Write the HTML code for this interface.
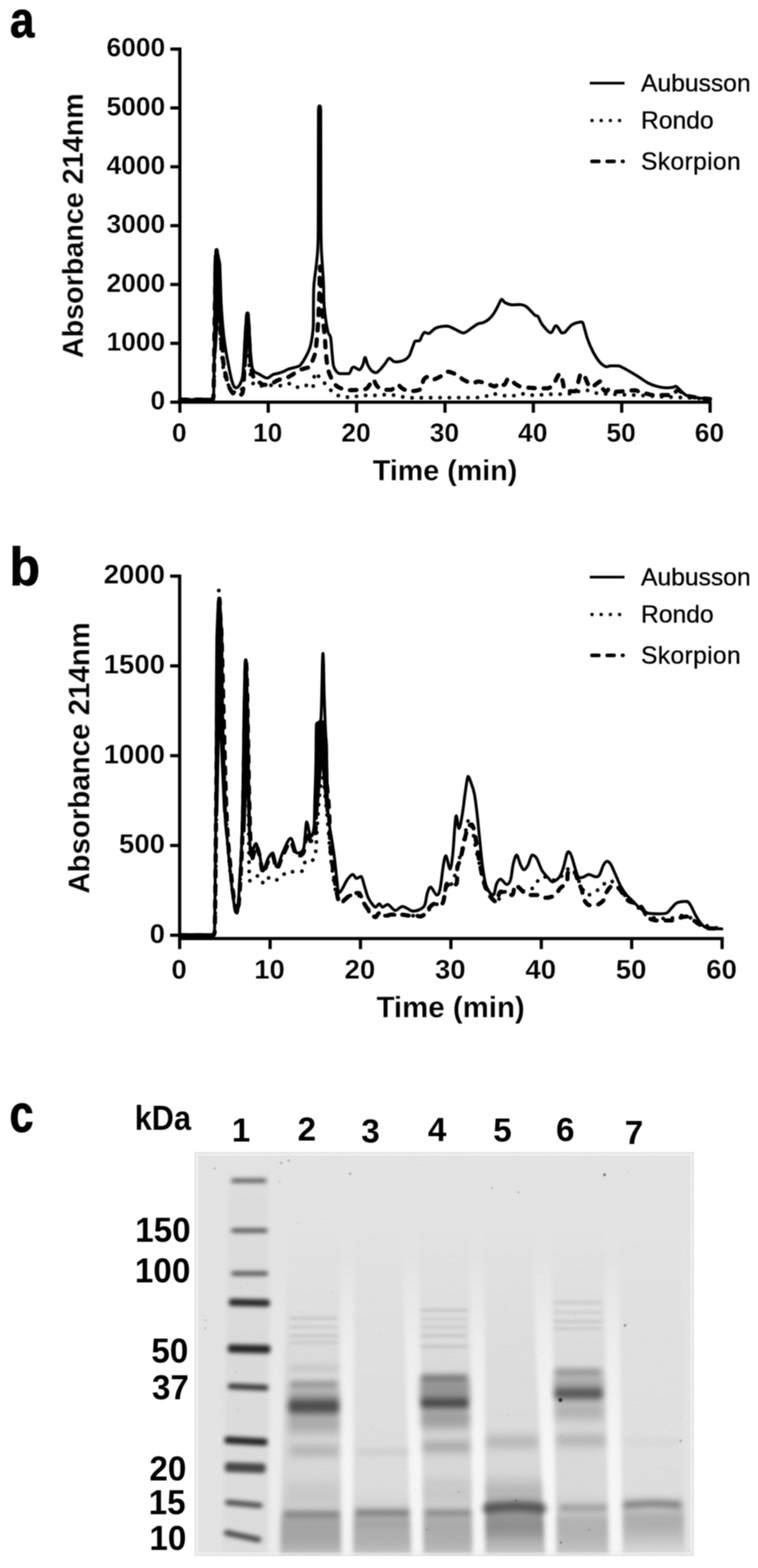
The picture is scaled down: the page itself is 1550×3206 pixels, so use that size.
<!DOCTYPE html>
<html lang="en">
<head>
<meta charset="utf-8">
<title>Figure: RP-HPLC chromatograms and SDS-PAGE</title>
<style>
html,body{margin:0;padding:0;background:#fff;}
body{width:1550px;height:3206px;overflow:hidden;}
svg{display:block;}
text{font-family:"Liberation Sans",sans-serif;fill:#000;}
.tk{font-weight:bold;stroke:#fff;stroke-width:0.45px;}
.ax{font-weight:bold;stroke:#fff;stroke-width:0.35px;}
.lg{font-weight:normal;stroke:#000;stroke-width:0.6px;}
.pl{font-weight:bold;}
.gl{font-weight:bold;}
</style>
</head>
<body>
<svg width="1550" height="3206" viewBox="0 0 1550 3206">
<defs>
<filter id="soft" filterUnits="userSpaceOnUse" x="0" y="0" width="1550" height="3206" color-interpolation-filters="sRGB"><feGaussianBlur stdDeviation="0.85"/></filter>
<clipPath id="gelclip"><rect x="397.5" y="2355" width="1022.0" height="827"/></clipPath>
<filter id="b1" x="-30%" y="-30%" width="160%" height="160%" color-interpolation-filters="sRGB"><feGaussianBlur stdDeviation="1.3"/></filter>
<filter id="b2" x="-30%" y="-30%" width="160%" height="160%" color-interpolation-filters="sRGB"><feGaussianBlur stdDeviation="5 4.2"/></filter>
<filter id="bt" x="-30%" y="-30%" width="160%" height="160%" color-interpolation-filters="sRGB"><feGaussianBlur stdDeviation="4 3"/></filter>
<filter id="b3" x="-30%" y="-30%" width="160%" height="160%" color-interpolation-filters="sRGB"><feGaussianBlur stdDeviation="6 6.5"/></filter>
<filter id="b5" x="-30%" y="-30%" width="160%" height="160%" color-interpolation-filters="sRGB"><feGaussianBlur stdDeviation="5 4"/></filter>
<filter id="b8" x="-30%" y="-30%" width="160%" height="160%" color-interpolation-filters="sRGB"><feGaussianBlur stdDeviation="7 10"/></filter>
<filter id="b12" x="-30%" y="-30%" width="160%" height="160%" color-interpolation-filters="sRGB"><feGaussianBlur stdDeviation="9 16"/></filter>
<filter id="bl" x="-30%" y="-30%" width="160%" height="160%" color-interpolation-filters="sRGB"><feGaussianBlur stdDeviation="1.1"/></filter>
<filter id="grain" x="0" y="0" width="100%" height="100%" color-interpolation-filters="sRGB"><feTurbulence type="fractalNoise" baseFrequency="0.5" numOctaves="2" seed="7" result="n"/><feColorMatrix in="n" type="matrix" values="0 0 0 0 0  0 0 0 0 0  0 0 0 0 0  1.6 0 0 0 -0.62"/><feGaussianBlur stdDeviation="0.9"/></filter>
<linearGradient id="gL1" x1="0" y1="0" x2="0" y2="1"><stop offset="0" stop-color="#000" stop-opacity="0"/><stop offset="0.05" stop-color="#000" stop-opacity="0.025"/><stop offset="0.5" stop-color="#000" stop-opacity="0.035"/><stop offset="1" stop-color="#000" stop-opacity="0.025"/></linearGradient>
<linearGradient id="gL2" x1="0" y1="0" x2="0" y2="1"><stop offset="0" stop-color="#000" stop-opacity="0"/><stop offset="0.3" stop-color="#000" stop-opacity="0.02"/><stop offset="0.45" stop-color="#000" stop-opacity="0.04"/><stop offset="0.59" stop-color="#000" stop-opacity="0.05"/><stop offset="0.81" stop-color="#000" stop-opacity="0.05"/><stop offset="0.87" stop-color="#000" stop-opacity="0.1"/><stop offset="0.9" stop-color="#000" stop-opacity="0.2"/><stop offset="1" stop-color="#000" stop-opacity="0.16"/></linearGradient>
<linearGradient id="gL3" x1="0" y1="0" x2="0" y2="1"><stop offset="0" stop-color="#000" stop-opacity="0"/><stop offset="0.3" stop-color="#000" stop-opacity="0.015"/><stop offset="0.59" stop-color="#000" stop-opacity="0.02"/><stop offset="0.81" stop-color="#000" stop-opacity="0.03"/><stop offset="0.87" stop-color="#000" stop-opacity="0.08"/><stop offset="0.9" stop-color="#000" stop-opacity="0.18"/><stop offset="1" stop-color="#000" stop-opacity="0.14"/></linearGradient>
<linearGradient id="gL4" x1="0" y1="0" x2="0" y2="1"><stop offset="0" stop-color="#000" stop-opacity="0"/><stop offset="0.3" stop-color="#000" stop-opacity="0.02"/><stop offset="0.45" stop-color="#000" stop-opacity="0.04"/><stop offset="0.59" stop-color="#000" stop-opacity="0.05"/><stop offset="0.81" stop-color="#000" stop-opacity="0.05"/><stop offset="0.87" stop-color="#000" stop-opacity="0.1"/><stop offset="0.9" stop-color="#000" stop-opacity="0.19"/><stop offset="1" stop-color="#000" stop-opacity="0.15"/></linearGradient>
<linearGradient id="gL5" x1="0" y1="0" x2="0" y2="1"><stop offset="0" stop-color="#000" stop-opacity="0"/><stop offset="0.3" stop-color="#000" stop-opacity="0.02"/><stop offset="0.59" stop-color="#000" stop-opacity="0.03"/><stop offset="0.75" stop-color="#000" stop-opacity="0.05"/><stop offset="0.83" stop-color="#000" stop-opacity="0.14"/><stop offset="0.87" stop-color="#000" stop-opacity="0.26"/><stop offset="0.92" stop-color="#000" stop-opacity="0.28"/><stop offset="1" stop-color="#000" stop-opacity="0.14"/></linearGradient>
<linearGradient id="gL6" x1="0" y1="0" x2="0" y2="1"><stop offset="0" stop-color="#000" stop-opacity="0"/><stop offset="0.3" stop-color="#000" stop-opacity="0.02"/><stop offset="0.45" stop-color="#000" stop-opacity="0.035"/><stop offset="0.59" stop-color="#000" stop-opacity="0.045"/><stop offset="0.81" stop-color="#000" stop-opacity="0.045"/><stop offset="0.87" stop-color="#000" stop-opacity="0.09"/><stop offset="0.9" stop-color="#000" stop-opacity="0.17"/><stop offset="1" stop-color="#000" stop-opacity="0.13"/></linearGradient>
<linearGradient id="gL7" x1="0" y1="0" x2="0" y2="1"><stop offset="0" stop-color="#000" stop-opacity="0"/><stop offset="0.3" stop-color="#000" stop-opacity="0.01"/><stop offset="0.59" stop-color="#000" stop-opacity="0.015"/><stop offset="0.81" stop-color="#000" stop-opacity="0.025"/><stop offset="0.86" stop-color="#000" stop-opacity="0.08"/><stop offset="0.89" stop-color="#000" stop-opacity="0.17"/><stop offset="0.96" stop-color="#000" stop-opacity="0.12"/><stop offset="1" stop-color="#000" stop-opacity="0.04"/></linearGradient>
<linearGradient id="gg0" x1="0" y1="0" x2="0" y2="1"><stop offset="0" stop-color="#fff" stop-opacity="0"/><stop offset="0.3" stop-color="#fff" stop-opacity="0.2"/><stop offset="0.7" stop-color="#fff" stop-opacity="0.4"/><stop offset="1" stop-color="#fff" stop-opacity="0.4"/></linearGradient>
<linearGradient id="gg1" x1="0" y1="0" x2="0" y2="1"><stop offset="0" stop-color="#fff" stop-opacity="0"/><stop offset="0.3" stop-color="#fff" stop-opacity="0.45"/><stop offset="0.7" stop-color="#fff" stop-opacity="0.75"/><stop offset="1" stop-color="#fff" stop-opacity="0.75"/></linearGradient>
<linearGradient id="gg2" x1="0" y1="0" x2="0" y2="1"><stop offset="0" stop-color="#fff" stop-opacity="0"/><stop offset="0.3" stop-color="#fff" stop-opacity="0.45"/><stop offset="0.7" stop-color="#fff" stop-opacity="0.8"/><stop offset="1" stop-color="#fff" stop-opacity="0.8"/></linearGradient>
<linearGradient id="gg3" x1="0" y1="0" x2="0" y2="1"><stop offset="0" stop-color="#fff" stop-opacity="0"/><stop offset="0.3" stop-color="#fff" stop-opacity="0.45"/><stop offset="0.7" stop-color="#fff" stop-opacity="0.8"/><stop offset="1" stop-color="#fff" stop-opacity="0.8"/></linearGradient>
<linearGradient id="gg4" x1="0" y1="0" x2="0" y2="1"><stop offset="0" stop-color="#fff" stop-opacity="0"/><stop offset="0.3" stop-color="#fff" stop-opacity="0.5"/><stop offset="0.7" stop-color="#fff" stop-opacity="0.85"/><stop offset="1" stop-color="#fff" stop-opacity="0.85"/></linearGradient>
<linearGradient id="gg5" x1="0" y1="0" x2="0" y2="1"><stop offset="0" stop-color="#fff" stop-opacity="0"/><stop offset="0.3" stop-color="#fff" stop-opacity="0.45"/><stop offset="0.7" stop-color="#fff" stop-opacity="0.8"/><stop offset="1" stop-color="#fff" stop-opacity="0.8"/></linearGradient>
</defs>
<rect x="0" y="0" width="1550" height="3206" fill="#fff"/>
<g filter="url(#soft)">
<g id="chart_a">
<g stroke="#000" stroke-width="6.6" fill="none" stroke-linecap="butt">
<path d="M367.8 97.1 V825.6"/>
<path d="M364.5 822.3 H1455.3"/>
<path d="M348.3 100.4 H367.8"/>
<path d="M348.3 220.7 H367.8"/>
<path d="M348.3 341.0 H367.8"/>
<path d="M348.3 461.4 H367.8"/>
<path d="M348.3 581.7 H367.8"/>
<path d="M348.3 702.0 H367.8"/>
<path d="M348.3 822.3 H367.8"/>
<path d="M367.8 822.3 V843.8"/>
<path d="M548.5 822.3 V843.8"/>
<path d="M729.2 822.3 V843.8"/>
<path d="M909.9 822.3 V843.8"/>
<path d="M1090.6 822.3 V843.8"/>
<path d="M1271.3 822.3 V843.8"/>
<path d="M1452.0 822.3 V843.8"/>
</g>
<g class="tk" text-anchor="end" font-size="54">
<text x="337.8" y="115.2">6000</text>
<text x="337.8" y="235.5">5000</text>
<text x="337.8" y="355.8">4000</text>
<text x="337.8" y="476.2">3000</text>
<text x="337.8" y="596.5">2000</text>
<text x="337.8" y="716.8">1000</text>
<text x="337.8" y="837.1">0</text>
</g>
<g class="tk" text-anchor="middle" font-size="54">
<text x="366.6" y="902.6">0</text>
<text x="547.3" y="902.6">10</text>
<text x="728.0" y="902.6">20</text>
<text x="908.7" y="902.6">30</text>
<text x="1089.4" y="902.6">40</text>
<text x="1270.1" y="902.6">50</text>
<text x="1450.8" y="902.6">60</text>
</g>
<text class="ax" font-size="58.7" text-anchor="middle" transform="translate(169.5 461.5) rotate(-90)">Absorbance 214nm</text>
<text class="ax" font-size="58.7" text-anchor="middle" x="910" y="981.6">Time (min)</text>
<path d="M1206 170 H1277" stroke="#000" stroke-width="5.4" fill="none"/>
<text class="lg" font-size="50.4" x="1310.8" y="187.0">Aubusson</text>
<path d="M1210.5 246.4 H1277" stroke="#000" stroke-width="6.8" stroke-linecap="round" stroke-dasharray="0.1 18.7" fill="none"/>
<text class="lg" font-size="50.4" x="1310.8" y="263.4">Rondo</text>
<path d="M1210.5 330.1 H1274" stroke="#000" stroke-width="7.5" stroke-linecap="round" stroke-dasharray="14 17.2" fill="none"/>
<text class="lg" font-size="50.4" x="1310.8" y="347.1" letter-spacing="0.7">Skorpion</text>
<g id="curves_a" fill="none" stroke="#000" stroke-linejoin="round" stroke-linecap="round">
<path d="M439.5 513.0 L446.0 513.0 L451.5 540.0 L453.5 600.0 L456.0 680.0 L458.0 720.0 L453.0 720.0 L447.0 640.0 L442.0 720.0 L437.5 720.0 L437.0 600.0 L437.5 540.0 Z" fill="#000" stroke-width="2"/>
<path d="M502.0 646.0 L510.0 646.0 L513.0 700.0 L515.0 750.0 L511.0 750.0 L507.0 700.0 L503.0 750.0 L499.0 750.0 L500.0 700.0 Z" fill="#000" stroke-width="2"/>
<path d="M368.0 817.0 C373.3 817.0 388.8 817.0 400.0 817.0 C411.2 817.0 428.8 817.0 435.0 817.0 C437.5 812.5 436.8 812.8 437.5 790.0 C438.2 767.2 438.8 711.7 439.5 680.0 C440.2 648.3 440.8 620.0 441.5 600.0 C442.2 580.0 442.8 560.0 443.5 560.0 C444.2 560.0 445.1 583.3 446.0 600.0 C446.9 616.7 447.8 640.0 449.0 660.0 C450.2 680.0 451.5 703.3 453.0 720.0 C454.5 736.7 455.8 749.2 458.0 760.0 C460.2 770.8 463.0 778.3 466.0 785.0 C469.0 791.7 472.7 797.0 476.0 800.0 C479.3 803.0 483.0 803.0 486.0 803.0 C489.0 802.5 492.0 802.5 494.0 797.0 C496.0 791.5 496.8 779.5 498.0 770.0 C499.2 760.5 500.0 749.2 501.0 740.0 C502.0 730.8 503.0 718.3 504.0 715.0 C505.0 715.0 506.0 715.0 507.0 720.0 C508.0 725.8 508.7 740.2 510.0 750.0 C511.3 759.8 512.7 772.1 515.0 778.6 C517.3 785.1 519.8 787.0 524.0 788.7 C528.2 789.0 534.0 789.0 540.0 789.0 C546.0 788.8 553.7 787.6 560.0 787.6 C566.3 787.6 572.2 788.7 578.0 788.7 C583.8 788.1 589.3 784.0 595.0 784.0 C600.7 784.7 606.8 792.3 612.0 793.0 C617.2 793.0 622.0 788.0 626.5 788.0 C631.0 788.2 636.5 794.0 639.0 794.0 C641.5 791.7 640.6 779.4 641.8 774.0 C643.0 768.6 643.8 761.7 646.0 761.7 C648.2 761.9 651.6 770.9 655.0 775.0 C658.4 779.1 661.5 781.1 666.6 786.4 C671.7 791.7 679.7 802.8 685.7 806.7 C691.7 810.0 697.0 808.9 702.6 810.0 C708.2 811.1 713.7 813.4 719.5 813.4 C725.3 813.0 731.2 808.5 737.4 807.8 C743.6 807.8 750.3 809.0 756.6 809.0 C762.9 809.0 768.6 808.4 775.0 808.0 C781.4 807.6 788.0 806.7 794.8 806.7 C801.6 807.0 809.1 808.9 816.0 810.0 C822.9 811.1 829.2 812.8 836.4 813.4 C843.6 813.4 848.4 813.4 859.0 813.4 C869.6 813.3 884.8 813.1 900.0 813.0 C915.2 813.0 935.3 813.0 950.0 813.0 C964.7 812.8 978.7 813.0 988.0 812.0 C997.3 810.7 998.7 805.5 1006.0 805.0 C1013.3 805.0 1024.0 808.3 1032.0 809.0 C1040.0 809.0 1047.2 809.0 1054.0 809.0 C1060.8 808.3 1066.5 805.1 1073.0 805.0 C1079.5 805.0 1086.2 808.2 1093.0 808.5 C1099.8 808.5 1107.2 807.1 1114.0 806.7 C1120.8 806.3 1126.9 806.1 1133.7 806.0 C1140.5 806.0 1148.1 806.0 1155.0 806.0 C1161.9 805.5 1168.2 804.5 1175.0 803.0 C1181.8 801.5 1189.1 797.0 1195.6 797.0 C1202.1 797.0 1204.9 801.5 1214.0 803.0 C1223.1 804.5 1235.7 805.2 1250.0 806.0 C1264.3 806.8 1283.3 807.2 1300.0 808.0 C1316.7 808.8 1333.3 810.2 1350.0 811.0 C1366.7 811.8 1383.0 812.2 1400.0 813.0 C1417.0 813.8 1443.3 815.5 1452.0 816.0" stroke-width="7.6" stroke-dasharray="0.1 19"/>
<path d="M368.0 817.0 C373.3 817.0 388.8 817.0 400.0 817.0 C411.2 817.0 428.8 817.0 435.0 817.0 C437.0 812.5 436.3 817.0 437.0 790.0 C437.7 762.2 438.3 691.7 439.0 650.0 C439.7 608.3 440.4 563.5 441.0 540.0 C441.6 516.5 441.9 509.0 442.5 509.0 C443.1 509.0 443.8 524.8 444.5 540.0 C445.2 555.2 446.1 580.0 447.0 600.0 C447.9 620.0 448.8 640.0 450.0 660.0 C451.2 680.0 452.3 703.3 454.0 720.0 C455.7 736.7 457.7 748.3 460.0 760.0 C462.3 771.7 465.0 782.3 468.0 790.0 C471.0 797.7 474.7 803.0 478.0 806.0 C481.3 808.0 485.0 808.0 488.0 808.0 C491.0 807.5 494.2 808.0 496.0 803.0 C497.8 796.7 498.2 783.8 499.0 770.0 C499.8 756.2 500.2 736.7 501.0 720.0 C501.8 703.3 502.7 683.2 503.5 670.0 C504.3 656.8 505.2 641.0 506.0 641.0 C506.8 641.0 507.7 656.8 508.5 670.0 C509.3 683.2 510.1 705.8 511.0 720.0 C511.9 734.2 512.8 746.7 514.0 755.0 C515.2 763.3 515.7 765.8 518.0 770.0 C520.3 774.2 524.3 777.2 528.0 780.0 C531.7 782.8 535.3 786.3 540.0 787.0 C544.7 787.0 551.2 785.7 556.0 784.0 C560.8 782.3 564.2 778.8 569.0 777.0 C573.8 775.2 580.2 774.8 585.0 773.0 C589.8 771.2 593.5 768.7 598.0 766.0 C602.5 763.3 607.0 759.3 612.0 757.0 C617.0 754.7 624.3 753.2 628.0 752.0 C631.7 750.8 632.0 752.0 634.0 750.0 C636.0 747.2 638.2 740.2 640.0 735.0 C641.8 729.8 643.6 727.3 645.0 719.0 C646.4 710.7 647.6 696.7 648.6 685.0 C649.6 673.3 650.3 663.2 651.0 649.0 C651.7 634.8 652.4 617.3 653.0 600.0 C653.6 582.7 653.9 545.0 654.5 545.0 C655.1 545.0 655.8 584.2 656.5 600.0 C657.2 615.8 657.8 625.4 659.0 640.0 C660.2 654.6 662.7 673.6 664.0 687.5 C665.3 701.4 665.3 711.5 666.6 723.5 C667.9 735.5 668.8 749.0 672.0 759.5 C675.2 770.0 681.0 780.6 685.7 786.5 C690.4 792.4 695.1 793.1 700.0 795.0 C704.9 796.9 709.2 797.4 715.0 797.7 C720.8 797.7 729.4 797.5 735.0 797.0 C740.6 796.5 745.0 797.0 748.7 795.0 C752.4 793.0 754.6 788.2 757.0 785.0 C759.4 781.8 760.8 776.0 763.0 776.0 C765.2 776.5 767.5 784.8 770.0 788.0 C772.5 791.2 774.7 793.5 778.0 795.0 C781.3 796.5 786.3 796.7 790.0 797.0 C793.7 797.0 797.0 797.0 800.0 797.0 C803.0 796.0 805.7 792.8 808.0 791.0 C810.3 789.2 811.8 786.5 814.0 786.5 C816.2 786.8 818.3 791.1 821.0 793.0 C823.7 794.9 826.8 796.8 830.0 798.0 C833.2 799.2 834.8 800.0 840.0 800.0 C845.2 799.5 856.7 798.8 861.0 795.0 C865.3 791.2 863.5 781.2 866.0 777.0 C868.5 772.8 872.7 770.2 876.0 770.0 C879.3 770.0 881.3 776.0 886.0 776.0 C890.7 775.7 899.0 770.7 904.0 768.0 C909.0 765.3 910.5 760.0 916.0 760.0 C921.5 760.0 931.8 765.3 937.0 768.0 C942.2 770.7 942.2 773.3 947.0 776.0 C951.8 778.7 960.8 783.3 966.0 784.0 C971.2 784.0 972.8 780.0 978.0 780.0 C983.2 780.2 991.3 783.3 997.0 785.0 C1002.7 786.7 1008.2 790.0 1012.0 790.0 C1015.8 789.7 1016.8 783.5 1020.0 783.0 C1023.2 783.0 1027.7 787.0 1031.0 787.0 C1034.3 785.5 1036.2 774.3 1040.0 774.0 C1043.8 774.0 1049.7 782.2 1054.0 785.0 C1058.3 787.8 1060.7 789.7 1066.0 791.0 C1071.3 792.3 1080.2 792.5 1086.0 793.0 C1091.8 793.5 1095.3 793.8 1101.0 794.0 C1106.7 794.0 1114.9 794.0 1120.0 794.0 C1125.1 792.7 1128.3 790.1 1131.5 786.4 C1134.7 782.7 1136.8 775.7 1139.0 772.0 C1141.2 768.3 1143.1 764.0 1145.0 764.0 C1146.9 765.3 1148.8 774.0 1150.6 779.7 C1152.4 785.4 1151.7 794.6 1156.0 798.0 C1160.3 800.0 1172.2 800.0 1176.5 800.0 C1180.8 797.5 1180.3 788.7 1182.0 783.0 C1183.7 777.3 1185.1 769.2 1186.6 766.0 C1188.1 764.0 1189.5 764.0 1191.0 764.0 C1192.5 764.6 1193.7 766.1 1195.6 769.6 C1197.5 773.1 1200.2 781.6 1202.3 785.3 C1204.4 789.0 1205.9 791.4 1208.0 792.0 C1210.1 792.0 1211.4 790.8 1214.7 788.7 C1218.0 786.7 1225.0 779.7 1228.0 779.7 C1231.0 780.8 1230.7 791.6 1232.7 795.0 C1234.7 798.4 1237.8 799.9 1240.0 800.0 C1242.2 800.0 1243.1 795.4 1246.0 795.4 C1248.9 795.6 1252.9 800.2 1257.4 801.0 C1261.9 801.0 1266.2 800.5 1273.0 800.0 C1279.8 799.5 1292.3 798.0 1298.0 798.0 C1303.7 798.2 1302.5 799.7 1307.0 801.0 C1311.5 802.3 1320.5 804.5 1325.0 805.6 C1329.5 806.7 1327.8 807.4 1334.0 807.8 C1340.2 807.8 1355.0 807.8 1362.0 807.8 C1369.0 807.6 1371.5 807.8 1375.7 806.7 C1379.9 805.0 1382.6 797.7 1387.0 797.7 C1391.4 797.9 1395.3 805.4 1402.0 808.0 C1408.7 810.6 1418.7 812.1 1427.0 813.4 C1435.3 814.7 1447.8 815.3 1452.0 815.7" stroke-width="8.6" stroke-dasharray="13.5 18"/>
<path d="M368.0 817.0 C370.0 816.8 376.3 816.0 380.0 816.0 C383.7 816.1 386.7 817.4 390.0 817.5 C393.3 817.5 396.7 816.6 400.0 816.5 C403.3 816.5 406.7 817.0 410.0 817.0 C413.3 816.9 416.7 816.0 420.0 816.0 C423.3 816.0 427.5 817.0 430.0 817.0 C432.5 817.0 433.8 817.0 435.0 816.0 C436.2 813.2 436.4 816.0 437.0 800.0 C437.6 780.7 438.0 733.3 438.5 700.0 C439.0 666.7 439.4 625.8 440.0 600.0 C440.6 574.2 441.3 556.3 442.0 545.0 C442.7 533.7 443.3 532.8 444.0 532.0 C444.7 532.0 445.2 532.0 446.0 540.0 C446.8 548.0 448.0 566.7 449.0 580.0 C450.0 593.3 451.0 606.7 452.0 620.0 C453.0 633.3 454.0 648.3 455.0 660.0 C456.0 671.7 456.8 680.3 458.0 690.0 C459.2 699.7 460.5 708.8 462.0 718.0 C463.5 727.2 465.3 736.3 467.0 745.0 C468.7 753.7 470.3 763.0 472.0 770.0 C473.7 777.0 475.3 783.2 477.0 787.0 C478.7 790.8 480.3 792.3 482.0 793.0 C483.7 793.0 485.3 792.7 487.0 791.0 C488.7 789.3 490.5 786.5 492.0 783.0 C493.5 779.5 494.9 777.2 496.0 770.0 C497.1 762.8 497.8 751.7 498.5 740.0 C499.2 728.3 499.8 713.3 500.5 700.0 C501.2 686.7 502.2 669.5 503.0 660.0 C503.8 650.5 504.7 644.7 505.5 643.0 C506.3 643.0 507.2 643.0 508.0 650.0 C508.8 657.8 509.7 676.7 510.5 690.0 C511.3 703.3 512.1 719.7 513.0 730.0 C513.9 740.3 514.8 747.0 516.0 752.0 C517.2 757.0 517.7 757.8 520.0 760.0 C522.3 762.2 525.7 762.8 530.0 765.0 C534.3 767.2 541.3 772.8 546.0 773.0 C550.7 773.0 554.0 767.7 558.0 766.0 C562.0 764.3 566.3 764.1 570.0 763.0 C573.7 761.9 576.8 760.8 580.0 759.5 C583.2 758.2 585.7 756.2 589.0 755.0 C592.3 753.8 597.0 752.8 600.0 752.0 C603.0 751.2 604.7 750.8 607.0 750.0 C609.3 749.2 610.7 750.0 613.7 747.0 C616.7 743.7 621.6 736.2 625.0 730.0 C628.4 723.8 631.8 717.1 634.0 710.0 C636.2 702.9 637.4 695.0 638.5 687.5 C639.6 680.0 640.3 676.2 640.7 665.0 C641.0 653.8 640.8 633.8 641.0 620.0 C641.2 606.2 641.0 595.3 642.0 582.0 C643.0 568.7 645.6 553.7 647.0 540.0 C648.4 526.3 649.6 520.0 650.2 500.0 C650.9 480.0 650.7 465.7 650.9 420.0 C651.1 374.3 650.9 259.9 651.2 226.0 C651.6 216.5 652.7 216.5 653.5 216.5 C654.3 216.5 655.4 216.5 655.8 226.0 C656.1 259.9 655.9 374.3 656.1 420.0 C656.3 465.7 656.3 480.0 656.8 500.0 C657.3 520.0 658.2 526.7 659.0 540.0 C659.8 553.3 660.8 565.5 661.5 580.0 C662.2 594.5 661.6 611.0 663.0 627.0 C664.4 643.0 667.8 665.5 670.0 676.0 C672.2 686.5 674.5 682.5 676.0 690.0 C677.5 697.5 678.0 711.3 679.0 721.0 C680.0 730.7 680.5 741.6 682.0 748.0 C683.5 754.4 685.8 756.8 688.0 759.5 C690.2 762.2 690.8 763.2 695.0 764.0 C699.2 764.0 708.9 764.0 713.0 764.0 C717.1 762.2 717.7 755.2 719.5 753.0 C721.3 750.8 721.4 750.5 724.0 750.5 C726.6 751.0 732.0 756.0 735.0 756.0 C738.0 755.2 740.1 750.2 742.0 746.0 C743.9 741.8 744.8 731.0 746.5 731.0 C748.2 731.0 749.8 741.5 752.0 746.0 C754.2 750.5 757.2 755.3 760.0 758.0 C762.8 760.7 766.0 762.0 769.0 762.0 C772.0 761.5 775.0 758.0 778.0 755.0 C781.0 752.0 784.0 747.8 787.0 744.0 C790.0 740.2 793.0 733.3 796.0 732.5 C799.0 732.5 802.3 737.8 805.0 739.0 C807.7 740.0 808.2 740.0 812.0 740.0 C815.8 739.5 823.4 738.0 827.5 736.0 C831.6 734.0 834.4 730.7 836.5 728.0 C838.6 725.3 838.7 723.4 840.0 720.0 C841.3 716.6 843.0 711.4 844.5 707.7 C846.0 704.0 846.8 699.5 849.0 697.6 C851.2 696.5 855.8 697.6 858.0 696.5 C860.2 694.8 860.8 690.3 862.5 687.5 C864.2 684.7 865.6 680.5 868.0 679.6 C870.4 679.6 873.0 681.9 877.0 681.9 C881.0 680.4 885.5 673.1 891.7 670.6 C897.9 668.1 907.8 666.8 914.2 666.8 C920.6 667.2 924.4 670.6 930.0 672.9 C935.6 675.2 942.0 680.7 948.0 680.7 C954.0 680.1 961.1 672.6 966.0 669.5 C970.9 666.4 973.5 664.0 977.2 662.3 C980.9 660.6 984.6 661.0 988.4 659.4 C992.1 657.8 996.3 655.4 999.7 652.6 C1003.1 649.8 1006.1 646.1 1008.7 642.5 C1011.3 638.9 1013.4 635.0 1015.4 631.2 C1017.4 627.5 1019.2 623.2 1021.0 620.0 C1022.8 616.8 1024.0 612.2 1026.0 612.0 C1028.0 612.0 1029.5 617.1 1033.0 619.0 C1036.5 620.9 1042.0 622.8 1047.0 623.4 C1052.0 623.4 1057.9 622.7 1062.7 622.7 C1067.5 623.2 1070.8 623.0 1076.0 626.7 C1081.2 630.4 1090.0 641.3 1094.0 644.7 C1098.0 647.0 1097.5 644.7 1100.0 647.0 C1102.5 650.2 1104.7 658.4 1109.0 663.9 C1113.3 669.4 1121.2 679.9 1125.9 680.3 C1130.6 680.3 1133.2 666.0 1137.0 666.0 C1140.8 666.1 1145.4 678.4 1148.4 680.7 C1151.4 680.7 1151.5 680.7 1155.0 679.6 C1158.5 676.8 1164.2 667.5 1169.7 663.9 C1175.2 660.3 1184.0 658.8 1187.7 658.2 C1191.4 658.2 1189.8 658.2 1192.0 660.5 C1194.2 666.1 1197.6 682.2 1201.0 692.0 C1204.4 701.8 1208.3 711.0 1212.5 719.0 C1216.7 727.0 1221.5 734.8 1226.0 740.0 C1230.5 745.2 1235.8 748.7 1239.5 750.0 C1243.2 750.0 1244.3 748.3 1248.4 748.0 C1252.5 748.0 1259.5 748.0 1264.0 748.0 C1268.5 748.8 1269.0 749.3 1275.4 752.7 C1281.8 756.1 1294.1 763.4 1302.4 768.4 C1310.7 773.4 1318.2 779.4 1325.0 783.0 C1331.8 786.6 1337.0 788.1 1343.0 789.8 C1349.0 791.5 1355.5 792.6 1361.0 793.0 C1366.5 793.0 1372.1 792.5 1375.7 792.0 C1379.3 791.5 1378.0 789.8 1382.5 789.8 C1387.0 792.4 1395.2 803.9 1402.7 807.8 C1410.2 811.7 1419.2 812.1 1427.4 813.4 C1435.6 814.7 1447.9 815.3 1452.0 815.7" stroke-width="6"/>

</g>
</g>
<g id="chart_b">
<g stroke="#000" stroke-width="6.6" fill="none" stroke-linecap="butt">
<path d="M367.4 1174.7 V1922.3"/>
<path d="M364.1 1919 H1479.9"/>
<path d="M347.9 1178.0 H367.4"/>
<path d="M347.9 1361.5 H367.4"/>
<path d="M347.9 1545.1 H367.4"/>
<path d="M347.9 1728.7 H367.4"/>
<path d="M347.9 1912.2 H367.4"/>
<path d="M367.4 1919 V1940.5"/>
<path d="M552.3 1919 V1940.5"/>
<path d="M737.1 1919 V1940.5"/>
<path d="M922.0 1919 V1940.5"/>
<path d="M1106.9 1919 V1940.5"/>
<path d="M1291.7 1919 V1940.5"/>
<path d="M1476.6 1919 V1940.5"/>
</g>
<g class="tk" text-anchor="end" font-size="56.4">
<text x="337.4" y="1193.4">2000</text>
<text x="337.4" y="1376.9">1500</text>
<text x="337.4" y="1560.5">1000</text>
<text x="337.4" y="1744.1">500</text>
<text x="337.4" y="1927.6">0</text>
</g>
<g class="tk" text-anchor="middle" font-size="56.4">
<text x="366.2" y="2000.8">0</text>
<text x="551.1" y="2000.8">10</text>
<text x="735.9" y="2000.8">20</text>
<text x="920.8" y="2000.8">30</text>
<text x="1105.7" y="2000.8">40</text>
<text x="1290.5" y="2000.8">50</text>
<text x="1475.4" y="2000.8">60</text>
</g>
<text class="ax" font-size="60.2" text-anchor="middle" transform="translate(182.5 1549.7) rotate(-90)">Absorbance 214nm</text>
<text class="ax" font-size="60.2" text-anchor="middle" x="921.5" y="2080.2">Time (min)</text>
<path d="M1206 1180 H1277" stroke="#000" stroke-width="5.4" fill="none"/>
<text class="lg" font-size="50.4" x="1310.8" y="1197.0">Aubusson</text>
<path d="M1210.5 1256.4 H1277" stroke="#000" stroke-width="6.8" stroke-linecap="round" stroke-dasharray="0.1 18.7" fill="none"/>
<text class="lg" font-size="50.4" x="1310.8" y="1273.4">Rondo</text>
<path d="M1210.5 1340.1 H1274" stroke="#000" stroke-width="7.5" stroke-linecap="round" stroke-dasharray="14 17.2" fill="none"/>
<text class="lg" font-size="50.4" x="1310.8" y="1357.1" letter-spacing="0.7">Skorpion</text>
<g id="curves_b" fill="none" stroke="#000" stroke-linejoin="round" stroke-linecap="round">
<path d="M368.0 1910.0 L385.0 1909.0 L400.0 1910.0 L415.0 1909.0 L438.0 1910.0 L438.0 1919.0 L368.0 1919.0 Z" fill="#000" stroke-width="2"/>
<path d="M444.5 1228.0 L451.5 1228.0 L455.5 1300.0 L456.5 1420.0 L458.0 1500.0 L461.0 1600.0 L463.0 1660.0 L457.0 1660.0 L449.0 1480.0 L445.5 1660.0 L440.0 1660.0 L440.5 1420.0 L441.5 1300.0 Z" fill="#000" stroke-width="2"/>
<path d="M500.0 1354.0 L505.5 1354.0 L508.0 1450.0 L510.5 1600.0 L512.5 1700.0 L508.0 1700.0 L504.5 1600.0 L501.0 1700.0 L496.5 1700.0 L497.5 1600.0 L498.5 1450.0 Z" fill="#000" stroke-width="2"/>
<path d="M647.0 1482.0 L656.0 1474.0 L665.0 1474.0 L669.5 1520.0 L670.5 1580.0 L672.0 1660.0 L667.0 1660.0 L658.0 1560.0 L650.0 1660.0 L645.5 1660.0 L646.0 1560.0 Z" fill="#000" stroke-width="2"/>
<path d="M368.0 1912.0 C373.3 1912.0 388.5 1912.0 400.0 1912.0 C411.5 1912.0 430.3 1912.0 437.0 1912.0 C440.0 1906.7 439.2 1912.0 440.0 1880.0 C440.8 1844.7 441.3 1763.3 442.0 1700.0 C442.7 1636.7 443.4 1566.7 444.0 1500.0 C444.6 1433.3 444.9 1344.7 445.5 1300.0 C446.1 1255.3 446.7 1233.7 447.4 1232.0 C448.1 1232.0 448.7 1262.0 449.5 1290.0 C450.3 1318.0 450.9 1361.7 452.0 1400.0 C453.1 1438.3 454.7 1483.3 456.0 1520.0 C457.3 1556.7 458.7 1590.0 460.0 1620.0 C461.3 1650.0 462.5 1675.8 464.0 1700.0 C465.5 1724.2 467.2 1745.0 469.0 1765.0 C470.8 1785.0 473.0 1804.5 475.0 1820.0 C477.0 1835.5 479.3 1850.7 481.0 1858.0 C482.7 1864.0 483.8 1864.0 485.0 1864.0 C486.2 1861.8 486.8 1859.0 488.0 1845.0 C489.2 1831.0 490.7 1805.8 492.0 1780.0 C493.3 1754.2 494.8 1726.7 496.0 1690.0 C497.2 1653.3 498.1 1605.0 499.0 1560.0 C499.9 1515.0 500.8 1453.3 501.5 1420.0 C502.2 1386.7 502.4 1360.0 503.0 1360.0 C503.6 1360.0 504.3 1386.7 505.0 1420.0 C505.7 1453.3 506.4 1513.3 507.0 1560.0 C507.6 1606.7 508.2 1663.2 508.6 1700.0 C509.0 1736.8 509.1 1763.7 509.5 1780.5 C509.9 1797.3 509.5 1799.0 511.0 1800.8 C513.2 1800.8 519.5 1792.6 522.7 1791.0 C525.9 1791.0 527.1 1791.0 530.0 1791.0 C532.9 1793.7 536.4 1806.7 540.0 1807.0 C543.6 1807.0 547.5 1794.2 551.8 1792.9 C556.1 1792.9 561.6 1799.0 566.0 1799.0 C570.4 1798.4 574.3 1792.2 578.4 1789.3 C582.5 1786.4 586.7 1782.5 590.7 1781.4 C594.7 1781.4 597.7 1782.8 602.2 1782.8 C606.8 1782.7 614.2 1782.8 618.0 1781.0 C621.8 1777.2 621.6 1763.5 625.0 1760.0 C628.4 1759.8 635.0 1760.0 638.4 1759.8 C641.8 1756.6 643.9 1751.0 645.5 1741.0 C647.1 1731.0 646.9 1716.8 648.0 1700.0 C649.1 1683.2 650.7 1656.7 652.0 1640.0 C653.3 1623.3 654.7 1608.3 656.0 1600.0 C657.3 1591.7 658.7 1590.0 660.0 1590.0 C661.3 1593.3 662.3 1605.0 664.0 1620.0 C665.7 1635.0 668.0 1658.3 670.0 1680.0 C672.0 1701.7 673.7 1728.3 676.0 1750.0 C678.3 1771.7 681.3 1794.7 684.0 1810.0 C686.7 1825.3 689.7 1835.9 692.0 1842.0 C694.3 1846.6 694.7 1846.6 697.7 1846.6 C700.7 1845.4 705.5 1838.1 710.0 1835.0 C714.5 1831.9 720.3 1828.0 725.0 1828.0 C729.7 1828.0 733.8 1830.0 738.0 1835.0 C742.2 1840.0 745.1 1851.3 750.0 1858.0 C754.9 1864.7 760.7 1873.0 767.4 1875.3 C774.1 1875.3 781.2 1872.9 790.0 1872.0 C798.8 1871.1 810.0 1870.0 820.0 1870.0 C830.0 1870.2 843.3 1872.3 850.0 1873.0 C856.7 1873.7 855.8 1874.0 860.0 1874.0 C864.2 1872.2 870.0 1866.0 875.0 1862.0 C880.0 1858.0 885.0 1852.8 890.0 1850.0 C895.0 1847.2 901.3 1850.0 905.0 1845.0 C908.7 1839.2 908.7 1821.7 912.0 1815.0 C915.3 1808.3 921.2 1812.5 925.0 1805.0 C928.8 1797.5 931.7 1781.7 935.0 1770.0 C938.3 1758.3 942.2 1746.7 945.0 1735.0 C947.8 1723.3 949.8 1709.8 952.0 1700.0 C954.2 1690.2 956.3 1677.7 958.5 1676.0 C960.7 1676.0 962.8 1681.0 965.0 1690.0 C967.2 1699.0 969.5 1717.5 972.0 1730.0 C974.5 1742.5 977.3 1754.2 980.0 1765.0 C982.7 1775.8 984.7 1785.0 988.0 1795.0 C991.3 1805.0 995.5 1817.0 1000.0 1825.0 C1004.5 1833.0 1010.0 1843.0 1015.0 1843.0 C1020.0 1843.0 1024.2 1828.8 1030.0 1825.0 C1035.8 1821.2 1042.5 1820.5 1050.0 1820.0 C1057.5 1820.0 1067.8 1822.0 1075.0 1822.0 C1082.2 1820.8 1088.5 1817.0 1093.3 1812.5 C1098.1 1808.0 1099.5 1798.0 1104.0 1794.7 C1108.5 1793.0 1114.8 1793.0 1120.0 1793.0 C1125.2 1793.9 1130.0 1800.0 1135.0 1800.0 C1140.0 1799.5 1145.0 1794.2 1150.0 1790.0 C1155.0 1785.8 1160.3 1775.0 1165.0 1775.0 C1169.7 1775.0 1173.8 1783.3 1178.0 1790.0 C1182.2 1796.7 1186.3 1808.3 1190.0 1815.0 C1193.7 1821.7 1195.9 1828.2 1200.0 1830.0 C1204.1 1830.0 1209.8 1828.9 1214.8 1826.0 C1219.8 1823.1 1224.8 1816.8 1230.0 1812.5 C1235.2 1808.2 1241.0 1800.4 1246.0 1800.0 C1251.0 1800.0 1255.2 1805.3 1260.0 1810.0 C1264.8 1814.7 1269.2 1822.2 1275.0 1828.0 C1280.8 1833.8 1287.5 1838.0 1295.0 1845.0 C1302.5 1852.0 1311.7 1864.5 1320.0 1870.0 C1328.3 1875.5 1336.7 1876.7 1345.0 1878.0 C1353.3 1878.0 1361.7 1878.0 1370.0 1878.0 C1378.3 1877.0 1387.5 1872.0 1395.0 1872.0 C1402.5 1872.0 1408.3 1875.0 1415.0 1878.0 C1421.7 1881.0 1424.8 1886.5 1435.0 1890.0 C1445.2 1893.5 1469.2 1897.8 1476.0 1899.3" stroke-width="7.6" stroke-dasharray="0.1 19"/>
<path d="M368.0 1912.0 C373.3 1912.0 388.5 1912.0 400.0 1912.0 C411.5 1912.0 430.4 1912.0 437.0 1912.0 C439.5 1906.7 438.8 1912.0 439.5 1880.0 C440.2 1844.7 440.8 1763.3 441.5 1700.0 C442.2 1636.7 442.8 1563.3 443.5 1500.0 C444.2 1436.7 444.7 1366.0 445.5 1320.0 C446.3 1274.0 447.7 1234.0 448.5 1224.0 C449.3 1224.0 449.8 1247.3 450.5 1260.0 C451.2 1272.7 451.9 1268.3 453.0 1300.0 C454.1 1331.7 455.7 1400.0 457.0 1450.0 C458.3 1500.0 459.7 1558.3 461.0 1600.0 C462.3 1641.7 463.5 1673.3 465.0 1700.0 C466.5 1726.7 468.2 1740.0 470.0 1760.0 C471.8 1780.0 474.0 1803.0 476.0 1820.0 C478.0 1837.0 480.5 1854.3 482.0 1862.0 C483.5 1866.0 484.0 1866.0 485.0 1866.0 C486.0 1864.0 486.8 1862.7 488.0 1850.0 C489.2 1837.3 490.7 1815.0 492.0 1790.0 C493.3 1765.0 494.8 1740.0 496.0 1700.0 C497.2 1660.0 498.1 1600.0 499.0 1550.0 C499.9 1500.0 500.8 1433.0 501.5 1400.0 C502.2 1367.0 502.4 1352.0 503.0 1352.0 C503.6 1352.0 504.3 1375.3 505.0 1400.0 C505.7 1424.7 506.2 1458.3 507.0 1500.0 C507.8 1541.7 508.8 1606.7 510.0 1650.0 C511.2 1693.3 512.5 1744.2 514.0 1760.0 C515.5 1760.0 517.3 1750.0 519.0 1745.0 C520.7 1740.0 522.0 1730.0 524.0 1730.0 C526.0 1730.8 528.7 1740.8 531.0 1750.0 C533.3 1759.2 535.2 1783.0 538.0 1785.0 C540.8 1785.0 544.7 1767.8 548.0 1762.0 C551.3 1756.2 555.0 1750.0 558.0 1750.0 C561.0 1752.3 562.7 1776.0 566.0 1776.0 C569.3 1776.0 573.3 1759.0 578.0 1750.0 C582.7 1741.0 589.2 1722.0 594.0 1722.0 C598.8 1722.0 602.5 1746.7 607.0 1750.0 C611.5 1750.0 617.7 1750.0 621.0 1742.0 C624.3 1733.7 624.7 1703.7 627.0 1700.0 C629.3 1700.0 632.5 1718.3 635.0 1720.0 C637.5 1720.0 640.2 1714.5 642.0 1710.0 C643.8 1705.5 644.7 1710.0 645.5 1693.0 C646.3 1674.7 646.2 1622.2 647.0 1600.0 C647.8 1577.8 648.8 1570.0 650.0 1560.0 C651.2 1550.0 652.7 1545.0 654.0 1540.0 C655.3 1535.0 656.7 1530.0 658.0 1530.0 C659.3 1530.8 660.3 1533.3 662.0 1545.0 C663.7 1556.7 666.2 1580.8 668.0 1600.0 C669.8 1619.2 671.8 1638.7 673.0 1660.0 C674.2 1681.3 674.3 1709.7 675.5 1728.0 C676.7 1746.3 678.2 1756.3 680.0 1770.0 C681.8 1783.7 684.0 1798.3 686.0 1810.0 C688.0 1821.7 690.0 1833.9 692.0 1840.0 C694.0 1846.1 695.6 1846.6 697.7 1846.6 C699.8 1846.6 701.2 1842.8 704.6 1839.8 C708.0 1836.8 714.1 1831.1 718.2 1828.8 C722.3 1826.5 726.3 1826.5 729.0 1826.0 C731.7 1826.0 732.3 1826.0 734.6 1826.0 C736.9 1828.8 740.5 1837.9 742.8 1842.5 C745.1 1847.1 745.6 1849.3 748.3 1853.4 C751.0 1857.5 756.0 1863.3 759.2 1867.0 C762.4 1870.7 764.7 1875.3 767.4 1875.3 C770.1 1875.3 772.0 1867.5 775.6 1867.0 C779.2 1867.0 785.1 1872.0 789.2 1872.5 C793.3 1872.5 794.9 1870.4 800.0 1870.0 C805.1 1870.0 814.2 1870.0 820.0 1870.0 C825.8 1870.3 830.0 1871.7 835.0 1872.0 C840.0 1872.0 845.8 1872.0 850.0 1872.0 C854.2 1872.3 856.5 1874.0 860.0 1874.0 C863.5 1873.2 868.0 1870.0 871.0 1867.0 C874.0 1864.0 875.2 1859.2 878.0 1856.0 C880.8 1852.8 883.2 1849.3 887.5 1848.0 C891.8 1848.0 900.4 1848.0 904.0 1848.0 C907.6 1844.8 907.8 1835.8 909.4 1829.0 C911.0 1822.2 911.7 1809.8 913.5 1807.0 C915.3 1807.0 916.6 1812.5 920.0 1812.5 C923.4 1812.3 931.5 1812.0 934.0 1805.6 C935.3 1799.2 934.3 1781.5 935.3 1774.0 C936.3 1766.5 938.4 1766.0 940.0 1760.6 C941.6 1755.2 942.9 1750.4 945.0 1741.5 C947.1 1732.6 950.2 1715.6 952.4 1707.0 C954.6 1698.4 956.0 1693.5 958.0 1690.0 C960.0 1686.5 962.6 1685.7 964.6 1685.7 C966.6 1687.4 968.3 1692.6 970.0 1700.0 C971.7 1707.4 973.3 1720.0 975.0 1730.0 C976.7 1740.0 978.2 1750.0 980.0 1760.0 C981.8 1770.0 983.8 1780.8 986.0 1790.0 C988.2 1799.2 990.0 1807.5 993.0 1815.0 C996.0 1822.5 1000.2 1830.2 1004.0 1835.0 C1007.8 1839.8 1012.2 1844.0 1015.5 1844.0 C1018.8 1842.0 1018.5 1825.3 1023.7 1823.0 C1029.0 1823.0 1042.0 1830.0 1047.0 1830.0 C1052.0 1827.8 1049.6 1810.6 1053.7 1809.7 C1057.8 1809.7 1067.2 1821.3 1071.5 1824.7 C1075.8 1828.1 1074.5 1829.1 1079.7 1830.0 C1085.0 1830.0 1096.9 1830.0 1103.0 1830.0 C1109.1 1831.0 1111.0 1835.7 1116.5 1835.7 C1122.0 1835.7 1131.0 1833.2 1135.7 1830.0 C1140.5 1826.8 1141.1 1820.9 1145.0 1816.6 C1148.9 1812.3 1156.2 1809.5 1159.0 1804.0 C1161.6 1798.5 1159.1 1787.8 1161.6 1783.8 C1164.1 1779.8 1170.6 1779.7 1174.0 1779.7 C1177.4 1782.7 1179.3 1794.7 1182.0 1801.5 C1184.7 1808.3 1188.2 1814.8 1190.0 1820.7 C1191.8 1826.6 1190.7 1832.0 1193.0 1837.0 C1195.3 1842.0 1199.5 1848.4 1204.0 1850.7 C1208.5 1850.7 1214.8 1850.7 1220.0 1850.7 C1225.2 1848.9 1231.5 1844.3 1235.0 1839.8 C1238.5 1835.2 1238.0 1828.2 1240.8 1823.4 C1243.6 1818.6 1247.8 1812.4 1251.7 1811.0 C1255.6 1811.0 1260.1 1812.0 1264.0 1815.0 C1267.9 1818.0 1271.3 1824.4 1275.0 1829.0 C1278.7 1833.6 1280.5 1838.9 1286.0 1842.5 C1291.5 1846.1 1301.5 1845.3 1308.0 1850.7 C1314.5 1856.1 1319.2 1869.8 1324.7 1875.0 C1330.2 1880.2 1334.8 1880.8 1341.0 1882.0 C1347.2 1882.0 1356.1 1882.0 1361.6 1882.0 C1367.1 1882.0 1368.1 1882.0 1373.8 1882.0 C1379.5 1880.8 1390.2 1876.3 1395.7 1875.0 C1401.2 1874.0 1401.1 1874.0 1406.6 1874.0 C1412.1 1876.3 1422.1 1885.2 1428.5 1889.0 C1434.9 1892.8 1439.4 1895.4 1444.8 1897.0 C1450.2 1898.5 1455.8 1898.1 1461.0 1898.5 C1466.2 1898.9 1473.5 1899.2 1476.0 1899.3" stroke-width="8.6" stroke-dasharray="13.5 18"/>
<path d="M368.0 1911.5 C373.3 1911.4 388.5 1911.0 400.0 1911.0 C411.5 1911.0 430.5 1911.5 437.0 1911.5 C439.0 1908.0 438.3 1911.5 439.0 1890.0 C439.7 1854.8 440.3 1765.0 441.0 1700.0 C441.7 1635.0 442.3 1566.7 443.0 1500.0 C443.7 1433.3 444.3 1345.3 445.0 1300.0 C445.7 1254.7 446.3 1240.3 447.0 1228.0 C447.7 1226.0 448.3 1226.0 449.0 1226.0 C449.7 1238.0 450.2 1262.7 451.0 1300.0 C451.8 1337.3 453.0 1408.3 454.0 1450.0 C455.0 1491.7 456.0 1514.2 457.0 1550.0 C458.0 1585.8 458.7 1636.7 460.0 1665.0 C461.3 1693.3 463.3 1701.7 465.0 1720.0 C466.7 1738.3 468.2 1756.7 470.0 1775.0 C471.8 1793.3 474.2 1815.8 476.0 1830.0 C477.8 1844.2 479.6 1853.8 481.0 1860.0 C482.4 1866.2 483.2 1867.0 484.2 1867.0 C485.2 1866.2 486.0 1866.2 487.0 1855.0 C488.0 1843.8 488.8 1820.8 490.0 1800.0 C491.2 1779.2 492.8 1763.3 494.0 1730.0 C495.2 1696.7 496.2 1646.7 497.0 1600.0 C497.8 1553.3 498.3 1490.0 499.0 1450.0 C499.7 1410.0 500.4 1376.8 501.0 1360.0 C501.6 1349.0 502.0 1349.0 502.5 1349.0 C503.0 1349.0 503.4 1349.0 504.0 1360.0 C504.6 1376.8 505.3 1410.0 506.0 1450.0 C506.7 1490.0 507.3 1558.3 508.0 1600.0 C508.7 1641.7 509.2 1675.7 510.0 1700.0 C510.8 1724.3 511.7 1740.2 513.0 1746.0 C514.3 1746.0 516.2 1738.5 518.0 1735.0 C519.8 1731.5 521.5 1724.8 523.6 1724.8 C525.7 1726.6 528.2 1736.6 530.6 1746.0 C533.0 1755.4 534.8 1779.5 537.7 1781.0 C540.7 1781.0 544.9 1761.2 548.3 1755.0 C551.7 1748.8 555.0 1744.0 558.0 1744.0 C561.0 1746.9 562.6 1772.5 566.0 1772.5 C569.4 1772.2 573.7 1752.2 578.4 1742.5 C583.1 1732.8 589.6 1714.0 594.3 1714.0 C599.0 1714.2 602.2 1740.4 606.6 1744.0 C611.0 1744.0 617.4 1744.0 620.8 1735.4 C624.2 1724.8 624.6 1684.7 627.0 1680.6 C629.4 1680.6 632.5 1708.6 635.0 1710.7 C637.5 1710.7 640.5 1704.8 642.0 1693.0 C643.5 1681.2 643.0 1662.2 643.7 1640.0 C644.4 1617.8 645.5 1586.3 646.0 1560.0 C646.5 1533.7 646.2 1495.8 647.0 1482.0 C647.8 1477.0 649.5 1478.7 651.0 1477.0 C652.5 1475.3 654.8 1477.0 656.0 1472.0 C657.2 1462.5 657.5 1438.7 658.0 1420.0 C658.5 1401.3 658.8 1374.0 659.2 1360.0 C659.6 1346.0 660.0 1336.0 660.4 1336.0 C660.8 1336.0 661.2 1346.0 661.6 1360.0 C662.0 1374.0 662.2 1400.0 662.8 1420.0 C663.4 1440.0 664.2 1460.0 665.0 1480.0 C665.8 1500.0 666.9 1520.0 667.5 1540.0 C668.1 1560.0 668.2 1583.3 668.5 1600.0 C668.8 1616.7 668.5 1625.0 669.0 1640.0 C669.9 1655.0 672.3 1676.7 674.0 1690.0 C675.7 1703.3 677.3 1709.2 679.0 1720.0 C680.7 1730.8 682.3 1741.7 684.0 1755.0 C685.7 1768.3 687.6 1788.2 689.0 1800.0 C690.4 1811.8 690.6 1822.8 692.3 1826.0 C694.0 1826.0 696.0 1823.5 699.0 1819.0 C702.0 1814.5 706.3 1804.0 710.0 1798.8 C713.7 1793.6 717.8 1788.5 721.0 1788.0 C724.2 1788.0 726.0 1795.3 729.0 1796.0 C732.0 1796.0 736.0 1792.0 738.7 1792.0 C741.5 1794.8 743.0 1805.0 745.5 1812.5 C748.0 1820.0 750.1 1830.0 753.7 1837.0 C757.4 1844.0 763.8 1853.0 767.4 1854.8 C771.0 1854.8 773.1 1848.0 775.6 1848.0 C778.1 1848.0 779.5 1854.6 782.4 1854.8 C785.3 1854.8 789.0 1849.3 793.3 1849.3 C797.6 1850.4 803.3 1860.9 808.3 1861.6 C813.3 1861.6 817.5 1853.4 823.4 1853.4 C829.3 1853.6 838.1 1861.9 843.8 1863.0 C849.5 1863.0 853.4 1862.0 857.5 1860.0 C861.6 1858.0 865.7 1856.4 868.4 1850.7 C871.1 1845.0 871.8 1832.2 873.9 1826.0 C876.0 1819.8 877.5 1813.8 880.7 1813.8 C883.9 1814.5 889.8 1829.3 893.0 1830.0 C896.2 1830.0 897.5 1828.2 899.8 1818.0 C902.1 1807.8 904.7 1780.2 906.7 1768.8 C908.7 1757.4 909.7 1749.7 912.0 1749.7 C914.3 1751.1 918.0 1777.0 920.3 1777.0 C922.6 1776.5 924.2 1761.1 925.8 1747.0 C927.4 1732.9 928.7 1705.5 929.9 1692.3 C931.1 1679.1 931.5 1668.0 933.0 1668.0 C934.5 1668.3 936.6 1694.0 938.7 1694.0 C940.8 1693.3 943.5 1675.8 945.5 1664.0 C947.5 1652.2 949.1 1635.8 951.0 1623.0 C952.9 1610.2 955.0 1591.2 957.0 1587.4 C959.0 1587.4 960.8 1594.1 963.0 1600.0 C965.2 1605.9 967.9 1612.3 970.0 1623.0 C972.1 1633.7 974.0 1650.4 975.6 1664.0 C977.2 1677.6 978.3 1691.2 979.7 1704.8 C981.1 1718.4 982.6 1734.3 983.8 1745.8 C985.0 1757.3 985.4 1763.3 987.0 1774.0 C988.6 1784.7 990.8 1800.5 993.7 1809.7 C996.6 1818.9 1001.9 1825.8 1004.6 1829.0 C1007.3 1829.0 1008.2 1829.0 1010.0 1829.0 C1011.8 1825.3 1013.2 1812.3 1015.5 1807.0 C1017.8 1801.7 1020.3 1797.4 1023.7 1797.4 C1027.1 1797.6 1032.6 1808.2 1036.0 1808.4 C1039.4 1808.4 1041.7 1805.9 1044.0 1798.8 C1046.3 1791.7 1047.5 1774.4 1049.6 1766.0 C1051.7 1757.6 1054.0 1748.3 1056.5 1748.3 C1059.0 1748.8 1062.2 1763.8 1064.7 1768.8 C1067.2 1773.8 1069.0 1778.3 1071.5 1778.3 C1074.0 1778.3 1077.0 1773.8 1079.7 1768.8 C1082.4 1763.8 1085.0 1750.6 1087.9 1748.3 C1090.9 1748.3 1094.0 1749.8 1097.4 1755.0 C1100.8 1760.2 1104.2 1772.9 1108.3 1779.7 C1112.4 1786.5 1118.4 1792.1 1122.0 1796.0 C1125.6 1799.9 1126.4 1803.0 1130.0 1803.0 C1133.6 1802.5 1140.1 1798.1 1143.8 1793.3 C1147.5 1788.5 1149.5 1781.7 1152.0 1774.0 C1154.5 1766.3 1157.1 1752.4 1158.9 1747.0 C1160.7 1741.6 1161.4 1741.5 1163.0 1741.5 C1164.6 1742.0 1166.1 1743.8 1168.4 1749.7 C1170.7 1755.6 1174.1 1769.5 1176.6 1777.0 C1179.1 1784.5 1180.7 1792.0 1183.4 1794.7 C1186.1 1794.7 1189.6 1794.4 1193.0 1793.3 C1196.4 1792.2 1199.9 1788.1 1204.0 1788.0 C1208.1 1788.0 1214.0 1792.6 1217.6 1792.8 C1221.2 1792.8 1223.1 1792.8 1225.8 1789.0 C1228.5 1785.0 1231.4 1773.5 1234.0 1768.8 C1236.6 1764.1 1239.1 1761.2 1241.6 1761.0 C1244.1 1761.0 1246.2 1762.9 1249.0 1767.4 C1251.8 1771.9 1255.1 1780.5 1258.5 1788.0 C1261.9 1795.5 1265.8 1805.7 1269.5 1812.5 C1273.2 1819.3 1276.3 1823.8 1280.4 1828.8 C1284.5 1833.8 1289.5 1838.0 1294.0 1842.5 C1298.5 1847.0 1302.6 1851.9 1307.7 1856.0 C1312.8 1860.1 1318.2 1864.9 1324.7 1867.0 C1331.2 1868.4 1340.1 1868.4 1346.5 1868.4 C1352.9 1868.4 1358.5 1868.4 1363.0 1867.0 C1367.5 1864.9 1370.2 1859.5 1373.8 1856.0 C1377.4 1852.5 1379.8 1848.0 1384.8 1845.8 C1389.8 1843.6 1399.5 1843.0 1404.0 1843.0 C1408.5 1843.8 1408.8 1845.8 1412.0 1850.7 C1415.2 1855.6 1419.3 1866.1 1423.0 1872.5 C1426.7 1878.9 1430.4 1884.9 1434.0 1889.0 C1437.6 1893.1 1440.3 1895.4 1444.8 1897.0 C1449.3 1898.5 1455.8 1898.1 1461.0 1898.5 C1466.2 1898.9 1473.5 1899.2 1476.0 1899.3" stroke-width="6"/>
<circle cx="447.4" cy="1207.3" r="3.9" fill="#000" stroke="none"/>
</g>
</g>
</g>
<g id="gel">
<rect x="397.5" y="2355" width="1022.0" height="827" fill="#ededed"/>
<rect x="404.0" y="2361.5" width="1009.0" height="814" fill="#e7e7e7" stroke="#f8f8f8" stroke-width="2"/>
<g clip-path="url(#gelclip)">
<g filter="url(#b5)">
<path d="M468 2390 L550 2390 L548 3176 L456 3176 Z" fill="url(#gL1)"/>
<path d="M590 2500 L692 2500 L699 3176 L572 3176 Z" fill="url(#gL2)"/>
<path d="M727 2500 L820 2500 L842 3176 L720 3176 Z" fill="url(#gL3)"/>
<path d="M858 2500 L958 2500 L968 3176 L864 3176 Z" fill="url(#gL4)"/>
<path d="M993 2500 L1084 2500 L1116 3176 L990 3176 Z" fill="url(#gL5)"/>
<path d="M1129 2500 L1233 2500 L1246 3176 L1136 3176 Z" fill="url(#gL6)"/>
<path d="M1268 2500 L1392 2500 L1400 3176 L1272 3176 Z" fill="url(#gL7)"/>
</g>
<g filter="url(#b5)">
<path d="M556 2560 L586 2560 L572 3176 L549 3176 Z" fill="url(#gg0)"/>
<path d="M695 2560 L725 2560 L721 3176 L699 3176 Z" fill="url(#gg1)"/>
<path d="M822 2560 L856 2560 L865 3176 L842 3176 Z" fill="url(#gg2)"/>
<path d="M960 2560 L991 2560 L991 3176 L967 3176 Z" fill="url(#gg3)"/>
<path d="M1087 2560 L1127 2560 L1137 3176 L1116 3176 Z" fill="url(#gg4)"/>
<path d="M1235 2560 L1265 2560 L1272 3176 L1246 3176 Z" fill="url(#gg5)"/>
</g>
<g filter="url(#b8)"><rect x="590" y="2844.0" width="104" height="44" rx="6.0" fill="#000" fill-opacity="0.3"/><rect x="590" y="2890.0" width="104" height="40" rx="6.0" fill="#000" fill-opacity="0.2"/><rect x="592" y="2959.0" width="102" height="14" rx="6.0" fill="#000" fill-opacity="0.26"/><rect x="585" y="3030.0" width="111" height="40" rx="6.0" fill="#000" fill-opacity="0.06"/><rect x="574" y="3105.0" width="124" height="60" rx="6.0" fill="#000" fill-opacity="0.1"/><rect x="722" y="3105.0" width="119" height="60" rx="6.0" fill="#000" fill-opacity="0.08"/><rect x="858" y="2821.0" width="102" height="50" rx="6.0" fill="#000" fill-opacity="0.32"/><rect x="860" y="2880.0" width="100" height="40" rx="6.0" fill="#000" fill-opacity="0.26"/><rect x="864" y="2951.0" width="98" height="14" rx="6.0" fill="#000" fill-opacity="0.34"/><rect x="866" y="3025.0" width="98" height="40" rx="6.0" fill="#000" fill-opacity="0.06"/><rect x="866" y="3105.0" width="100" height="60" rx="6.0" fill="#000" fill-opacity="0.08"/><rect x="994" y="2937.0" width="106" height="22" rx="6.0" fill="#000" fill-opacity="0.18"/><rect x="992" y="3030.0" width="120" height="40" rx="6.0" fill="#000" fill-opacity="0.08"/><rect x="992" y="3095.0" width="122" height="50" rx="6.0" fill="#000" fill-opacity="0.12"/><rect x="1132" y="2814.0" width="102" height="44" rx="6.0" fill="#000" fill-opacity="0.24"/><rect x="1134" y="2868.0" width="100" height="34" rx="6.0" fill="#000" fill-opacity="0.18"/><rect x="1138" y="2936.0" width="100" height="18" rx="6.0" fill="#000" fill-opacity="0.22"/><rect x="1140" y="3100.0" width="104" height="60" rx="6.0" fill="#000" fill-opacity="0.06"/><rect x="1276" y="3090.0" width="120" height="50" rx="6.0" fill="#000" fill-opacity="0.08"/></g>
<g filter="url(#b3)"><rect x="592" y="2794.0" width="100" height="8" rx="4.0" fill="#000" fill-opacity="0.12"/><rect x="592" y="2825.5" width="99" height="10" rx="5.0" fill="#000" fill-opacity="0.42"/><rect x="590" y="2863.0" width="103" height="26" rx="6.0" fill="#000" fill-opacity="0.5"/><rect x="580" y="3091.5" width="115" height="9" rx="4.5" fill="#000" fill-opacity="0.48"/><rect x="728" y="2965.5" width="110" height="7" rx="3.5" fill="#000" fill-opacity="0.12"/><rect x="726" y="3087.5" width="112" height="11" rx="5.5" fill="#000" fill-opacity="0.48"/><rect x="726" y="3112.5" width="114" height="5" rx="2.5" fill="#000" fill-opacity="0.12"/><rect x="860" y="2812.0" width="96" height="11" rx="5.5" fill="#000" fill-opacity="0.48"/><rect x="860" y="2859.0" width="98" height="20" rx="6.0" fill="#000" fill-opacity="0.58"/><rect x="868" y="3088.5" width="96" height="9" rx="4.5" fill="#000" fill-opacity="0.44"/><path d="M996 3084.0 Q1052.5 3076.0 1109 3084.0" fill="none" stroke="#000" stroke-opacity="0.52" stroke-width="20" stroke-linecap="round"/><rect x="1134" y="2799.5" width="96" height="11" rx="5.5" fill="#000" fill-opacity="0.36"/><rect x="1134" y="2839.0" width="98" height="22" rx="6.0" fill="#000" fill-opacity="0.5"/><rect x="1144" y="3079.0" width="97" height="8" rx="4.0" fill="#000" fill-opacity="0.4"/><rect x="1278" y="2945.0" width="112" height="6" rx="3.0" fill="#000" fill-opacity="0.06"/><path d="M1280 3077.0 Q1334.0 3071.0 1388 3077.0" fill="none" stroke="#000" stroke-opacity="0.44" stroke-width="13" stroke-linecap="round"/></g>
<g filter="url(#bt)"><rect x="592" y="2693.0" width="98" height="5" rx="2.5" fill="#000" fill-opacity="0.12"/><rect x="592" y="2710.5" width="98" height="5" rx="2.5" fill="#000" fill-opacity="0.09"/><rect x="592" y="2728.5" width="98" height="5" rx="2.5" fill="#000" fill-opacity="0.12"/><rect x="592" y="2742.5" width="98" height="5" rx="2.5" fill="#000" fill-opacity="0.1"/><rect x="860" y="2676.5" width="95" height="5" rx="2.5" fill="#000" fill-opacity="0.14"/><rect x="860" y="2694.5" width="95" height="5" rx="2.5" fill="#000" fill-opacity="0.08"/><rect x="860" y="2710.5" width="95" height="5" rx="2.5" fill="#000" fill-opacity="0.1"/><rect x="860" y="2728.5" width="95" height="5" rx="2.5" fill="#000" fill-opacity="0.12"/><rect x="860" y="2750.5" width="95" height="5" rx="2.5" fill="#000" fill-opacity="0.12"/><rect x="1131" y="2660.5" width="99" height="5" rx="2.5" fill="#000" fill-opacity="0.1"/><rect x="1131" y="2680.5" width="99" height="5" rx="2.5" fill="#000" fill-opacity="0.08"/><rect x="1131" y="2699.5" width="99" height="5" rx="2.5" fill="#000" fill-opacity="0.12"/><rect x="1131" y="2713.5" width="99" height="5" rx="2.5" fill="#000" fill-opacity="0.1"/></g>
<g filter="url(#b2)"><rect x="473" y="2409.5" width="72" height="9" rx="4.5" fill="#000" fill-opacity="0.58"/><rect x="473" y="2511.5" width="74" height="9" rx="4.5" fill="#000" fill-opacity="0.62"/><rect x="473" y="2599.5" width="75" height="9" rx="4.5" fill="#000" fill-opacity="0.64"/><rect x="468" y="2656.0" width="84" height="15" rx="6.0" fill="#000" fill-opacity="0.82" transform="rotate(1 510.0 2663.5)"/><rect x="466" y="2749.5" width="87" height="17" rx="6.0" fill="#000" fill-opacity="0.84" transform="rotate(1 509.5 2758)"/><rect x="466" y="2830.0" width="83" height="12" rx="6.0" fill="#000" fill-opacity="0.74" transform="rotate(2.5 507.5 2836)"/><rect x="459" y="2939.0" width="88" height="15" rx="6.0" fill="#000" fill-opacity="0.84" transform="rotate(3 503.0 2946.5)"/><rect x="460" y="2991.0" width="83" height="20" rx="6.0" fill="#000" fill-opacity="0.68" transform="rotate(2 501.5 3001)"/><rect x="460" y="3069.0" width="77" height="12" rx="6.0" fill="#000" fill-opacity="0.62" transform="rotate(5.5 498.5 3075)"/><rect x="457" y="3135.0" width="78" height="12" rx="6.0" fill="#000" fill-opacity="0.66" transform="rotate(12 496.0 3141)"/></g>
<rect x="397.5" y="2355" width="1022.0" height="827" fill="#000" opacity="0.09" filter="url(#grain)"/>
<g filter="url(#b1)"><circle cx="439" cy="2389" r="2.2" fill="#000" fill-opacity="0.22"/><circle cx="575" cy="2378" r="3" fill="#000" fill-opacity="0.18"/><circle cx="590" cy="2373" r="2.4" fill="#000" fill-opacity="0.25"/><circle cx="716" cy="2400" r="2.6" fill="#000" fill-opacity="0.25"/><circle cx="572" cy="2416" r="2" fill="#000" fill-opacity="0.15"/><circle cx="1146" cy="2862.5" r="4" fill="#000" fill-opacity="0.7"/><circle cx="1236" cy="2402" r="3.2" fill="#000" fill-opacity="0.4"/><circle cx="1278" cy="2710" r="3" fill="#000" fill-opacity="0.3"/><circle cx="1006" cy="2429" r="2" fill="#000" fill-opacity="0.2"/><circle cx="1060" cy="2438" r="2" fill="#000" fill-opacity="0.22"/><circle cx="420" cy="2700" r="3" fill="#000" fill-opacity="0.1"/><circle cx="420" cy="2716" r="3" fill="#000" fill-opacity="0.1"/><circle cx="1392" cy="2946" r="2.4" fill="#000" fill-opacity="0.25"/><circle cx="1147" cy="3154" r="2.6" fill="#000" fill-opacity="0.3"/><circle cx="1205" cy="3128" r="2" fill="#000" fill-opacity="0.2"/><circle cx="1055" cy="3068" r="2.4" fill="#000" fill-opacity="0.25"/><circle cx="873" cy="3127" r="2" fill="#000" fill-opacity="0.25"/><circle cx="938" cy="3050" r="2" fill="#000" fill-opacity="0.2"/><circle cx="861" cy="2817" r="1.5" fill="#000" fill-opacity="0.10"/><circle cx="916" cy="2839" r="0.9" fill="#000" fill-opacity="0.11"/><circle cx="1039" cy="3006" r="0.9" fill="#000" fill-opacity="0.08"/><circle cx="497" cy="3020" r="1.4" fill="#000" fill-opacity="0.05"/><circle cx="1394" cy="3145" r="1.3" fill="#000" fill-opacity="0.12"/><circle cx="564" cy="2375" r="1.2" fill="#000" fill-opacity="0.06"/><circle cx="597" cy="2559" r="0.8" fill="#000" fill-opacity="0.10"/><circle cx="849" cy="3046" r="1.2" fill="#000" fill-opacity="0.12"/><circle cx="908" cy="2900" r="1.2" fill="#000" fill-opacity="0.08"/><circle cx="1409" cy="3171" r="1.5" fill="#000" fill-opacity="0.13"/><circle cx="723" cy="2549" r="1.0" fill="#000" fill-opacity="0.06"/><circle cx="1176" cy="2688" r="1.5" fill="#000" fill-opacity="0.09"/><circle cx="1369" cy="3050" r="0.8" fill="#000" fill-opacity="0.07"/><circle cx="1321" cy="2744" r="1.6" fill="#000" fill-opacity="0.09"/><circle cx="479" cy="2873" r="1.4" fill="#000" fill-opacity="0.08"/><circle cx="493" cy="2633" r="1.6" fill="#000" fill-opacity="0.13"/><circle cx="524" cy="2563" r="0.9" fill="#000" fill-opacity="0.06"/><circle cx="1207" cy="2507" r="1.2" fill="#000" fill-opacity="0.10"/><circle cx="597" cy="2957" r="0.9" fill="#000" fill-opacity="0.12"/><circle cx="523" cy="2704" r="1.0" fill="#000" fill-opacity="0.08"/><circle cx="1382" cy="3015" r="1.0" fill="#000" fill-opacity="0.15"/><circle cx="617" cy="2683" r="1.5" fill="#000" fill-opacity="0.12"/><circle cx="506" cy="3165" r="1.0" fill="#000" fill-opacity="0.08"/><circle cx="1183" cy="2630" r="1.0" fill="#000" fill-opacity="0.06"/><circle cx="496" cy="2836" r="1.0" fill="#000" fill-opacity="0.12"/><circle cx="779" cy="2731" r="1.6" fill="#000" fill-opacity="0.10"/><circle cx="984" cy="3066" r="0.9" fill="#000" fill-opacity="0.07"/><circle cx="1319" cy="3026" r="1.0" fill="#000" fill-opacity="0.07"/><circle cx="1149" cy="3126" r="1.0" fill="#000" fill-opacity="0.15"/><circle cx="1293" cy="2852" r="1.1" fill="#000" fill-opacity="0.06"/><circle cx="444" cy="3144" r="1.0" fill="#000" fill-opacity="0.13"/><circle cx="664" cy="3031" r="1.3" fill="#000" fill-opacity="0.08"/><circle cx="582" cy="2947" r="0.9" fill="#000" fill-opacity="0.08"/><circle cx="968" cy="3054" r="1.3" fill="#000" fill-opacity="0.08"/><circle cx="1328" cy="2528" r="0.8" fill="#000" fill-opacity="0.08"/><circle cx="854" cy="2412" r="0.9" fill="#000" fill-opacity="0.09"/><circle cx="981" cy="2470" r="1.1" fill="#000" fill-opacity="0.15"/><circle cx="1392" cy="2896" r="1.4" fill="#000" fill-opacity="0.11"/><circle cx="547" cy="2391" r="0.8" fill="#000" fill-opacity="0.15"/><circle cx="1111" cy="3144" r="0.8" fill="#000" fill-opacity="0.12"/><circle cx="891" cy="2955" r="1.1" fill="#000" fill-opacity="0.16"/><circle cx="481" cy="2806" r="1.4" fill="#000" fill-opacity="0.15"/><circle cx="1147" cy="2934" r="1.4" fill="#000" fill-opacity="0.15"/><circle cx="759" cy="2919" r="1.5" fill="#000" fill-opacity="0.15"/><circle cx="825" cy="3004" r="1.5" fill="#000" fill-opacity="0.11"/><circle cx="1034" cy="2673" r="1.3" fill="#000" fill-opacity="0.12"/><circle cx="486" cy="2882" r="1.6" fill="#000" fill-opacity="0.15"/><circle cx="1138" cy="2678" r="1.4" fill="#000" fill-opacity="0.11"/><circle cx="849" cy="3043" r="0.9" fill="#000" fill-opacity="0.13"/><circle cx="435" cy="2851" r="1.2" fill="#000" fill-opacity="0.08"/><circle cx="1108" cy="2766" r="1.3" fill="#000" fill-opacity="0.15"/><circle cx="663" cy="2372" r="1.0" fill="#000" fill-opacity="0.12"/><circle cx="609" cy="2501" r="1.5" fill="#000" fill-opacity="0.12"/><circle cx="850" cy="3086" r="1.1" fill="#000" fill-opacity="0.12"/><circle cx="605" cy="2712" r="1.4" fill="#000" fill-opacity="0.15"/><circle cx="1291" cy="2675" r="1.3" fill="#000" fill-opacity="0.08"/><circle cx="542" cy="2766" r="1.5" fill="#000" fill-opacity="0.14"/><circle cx="1121" cy="3133" r="1.0" fill="#000" fill-opacity="0.07"/><circle cx="859" cy="2586" r="1.0" fill="#000" fill-opacity="0.10"/><circle cx="1035" cy="2764" r="1.1" fill="#000" fill-opacity="0.14"/><circle cx="1393" cy="2730" r="0.9" fill="#000" fill-opacity="0.05"/><circle cx="1284" cy="2397" r="1.4" fill="#000" fill-opacity="0.11"/><circle cx="716" cy="3005" r="0.8" fill="#000" fill-opacity="0.06"/><circle cx="863" cy="2383" r="1.5" fill="#000" fill-opacity="0.08"/><circle cx="547" cy="2401" r="1.3" fill="#000" fill-opacity="0.10"/><circle cx="1039" cy="2894" r="1.4" fill="#000" fill-opacity="0.16"/><circle cx="1094" cy="2525" r="1.2" fill="#000" fill-opacity="0.07"/><circle cx="416" cy="2746" r="1.4" fill="#000" fill-opacity="0.07"/><circle cx="679" cy="2643" r="1.4" fill="#000" fill-opacity="0.11"/><circle cx="1024" cy="2976" r="1.1" fill="#000" fill-opacity="0.14"/></g>
</g>
</g>
<g class="gl" id="gel-labels" filter="url(#soft)">
<text x="275.5" y="2310" font-size="71" text-anchor="start" textLength="115" lengthAdjust="spacingAndGlyphs">kDa</text>
<text x="493" y="2334.3" font-size="68" text-anchor="middle">1</text>
<text x="627.5" y="2332.3" font-size="68" text-anchor="middle">2</text>
<text x="757.6" y="2336.3" font-size="68" text-anchor="middle">3</text>
<text x="894" y="2333.3" font-size="68" text-anchor="middle">4</text>
<text x="1027.3" y="2334" font-size="68" text-anchor="middle">5</text>
<text x="1156" y="2333.3" font-size="68" text-anchor="middle">6</text>
<text x="1296.3" y="2338.5" font-size="68" text-anchor="middle">7</text>
<text x="389.8" y="2539.3" font-size="70" text-anchor="end" textLength="113.4" lengthAdjust="spacingAndGlyphs">150</text>
<text x="389.2" y="2622" font-size="70" text-anchor="end" textLength="113.4" lengthAdjust="spacingAndGlyphs">100</text>
<text x="385" y="2786" font-size="70" text-anchor="end" textLength="75.6" lengthAdjust="spacingAndGlyphs">50</text>
<text x="386.3" y="2861.3" font-size="70" text-anchor="end" textLength="75.6" lengthAdjust="spacingAndGlyphs">37</text>
<text x="381" y="3026.8" font-size="70" text-anchor="end" textLength="75.6" lengthAdjust="spacingAndGlyphs">20</text>
<text x="379.5" y="3096.4" font-size="70" text-anchor="end" textLength="75.6" lengthAdjust="spacingAndGlyphs">15</text>
<text x="381" y="3169.4" font-size="70" text-anchor="end" textLength="75.6" lengthAdjust="spacingAndGlyphs">10</text>
</g>
<g class="pl" id="panel-letters" filter="url(#soft)">
<text transform="translate(20.50 76.00) scale(0.8952 1.0351)" font-size="100" stroke="#000" stroke-width="1.6">a</text>
<text transform="translate(19.60 1195.80) scale(1.0200 1.0990)" font-size="100" stroke="#000" stroke-width="1.6">b</text>
<text transform="translate(19.50 2314.20) scale(0.8803 1.0668)" font-size="100" stroke="#000" stroke-width="1.6">c</text>
</g>
</svg>
</body>
</html>
